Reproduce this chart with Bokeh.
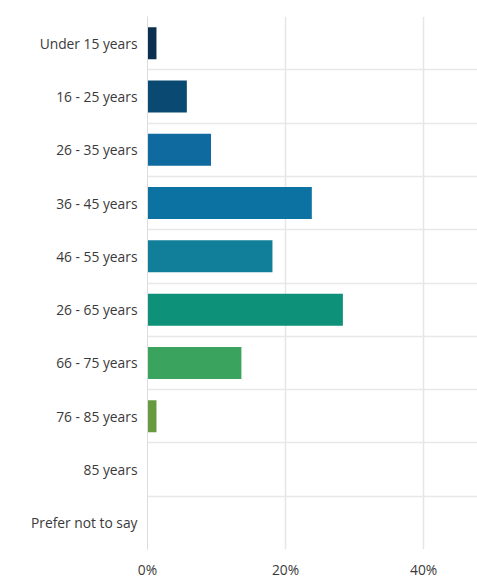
from bokeh.plotting import figure
from bokeh.models import ColumnDataSource, Range1d, FixedTicker, Grid
from bokeh.embed import file_html
from bokeh.resources import INLINE

categories = ["Under 15 years", "16 - 25 years", "26 - 35 years", "36 - 45 years",
              "46 - 55 years", "26 - 65 years", "66 - 75 years", "76 - 85 years",
              "85 years", "Prefer not to say"]
percent = [1.3, 5.7, 9.2, 23.8, 18.1, 28.3, 13.6, 1.3, 0.0, 0.0]
colors = ["#0b2f4e", "#0a4a72", "#0f6aa0", "#0b72a2", "#117f99",
          "#0d9178", "#3aa35e", "#6a9a40", "#6a9a40", "#6a9a40"]
x_ticks = [0, 20, 40]

n = len(categories)
idx = list(range(n))
src = ColumnDataSource(dict(y=idx, v=percent, c=colors, cat=categories))

p = figure(width=477, height=581, output_backend="svg", toolbar_location=None,
           x_range=Range1d(0, 47.8), y_range=Range1d(n - 0.5, -0.5),
           min_border_left=147, min_border_top=16, min_border_bottom=29,
           min_border_right=0)
p.outline_line_color = None
p.background_fill_color = "white"
p.border_fill_color = "white"

p.hbar(y="y", right="v", left=0, height=0.6, fill_color="c", line_color=None, source=src)

# axes
p.yaxis.ticker = FixedTicker(ticks=idx)
p.yaxis.major_label_overrides = {i: c for i, c in zip(idx, categories)}
p.yaxis.major_tick_line_color = None
p.yaxis.major_tick_out = 0
p.yaxis.major_tick_in = 0
p.yaxis.minor_tick_line_color = None
p.yaxis.axis_line_color = "#dcdcdc"
p.yaxis.axis_line_width = 1
p.yaxis.major_label_standoff = 10
p.yaxis.major_label_text_font = "Open Sans"
p.yaxis.major_label_text_font_size = "13.8px"
p.yaxis.major_label_text_color = "#3a3a3a"

p.xaxis.ticker = FixedTicker(ticks=x_ticks)
p.xaxis.major_label_overrides = {t: f"{t}%" for t in x_ticks}
p.xaxis.axis_line_color = None
p.xaxis.major_tick_line_color = None
p.xaxis.major_tick_out = 0
p.xaxis.major_tick_in = 0
p.xaxis.minor_tick_line_color = None
p.xaxis.major_label_standoff = 10
p.xaxis.major_label_text_font = "Open Sans"
p.xaxis.major_label_text_font_size = "13.8px"
p.xaxis.major_label_text_color = "#3a3a3a"

# grids
p.xgrid.grid_line_color = "#e6e6e6"
p.xgrid.grid_line_width = 1.5
p.ygrid.grid_line_color = None
boundaries = [i - 0.5 for i in range(n + 1)]
bgrid = Grid(dimension=1, ticker=FixedTicker(ticks=boundaries),
             grid_line_color="#e8e8e8", grid_line_width=1.5)
p.add_layout(bgrid)

open("out.html", "w").write(file_html(p, INLINE))
